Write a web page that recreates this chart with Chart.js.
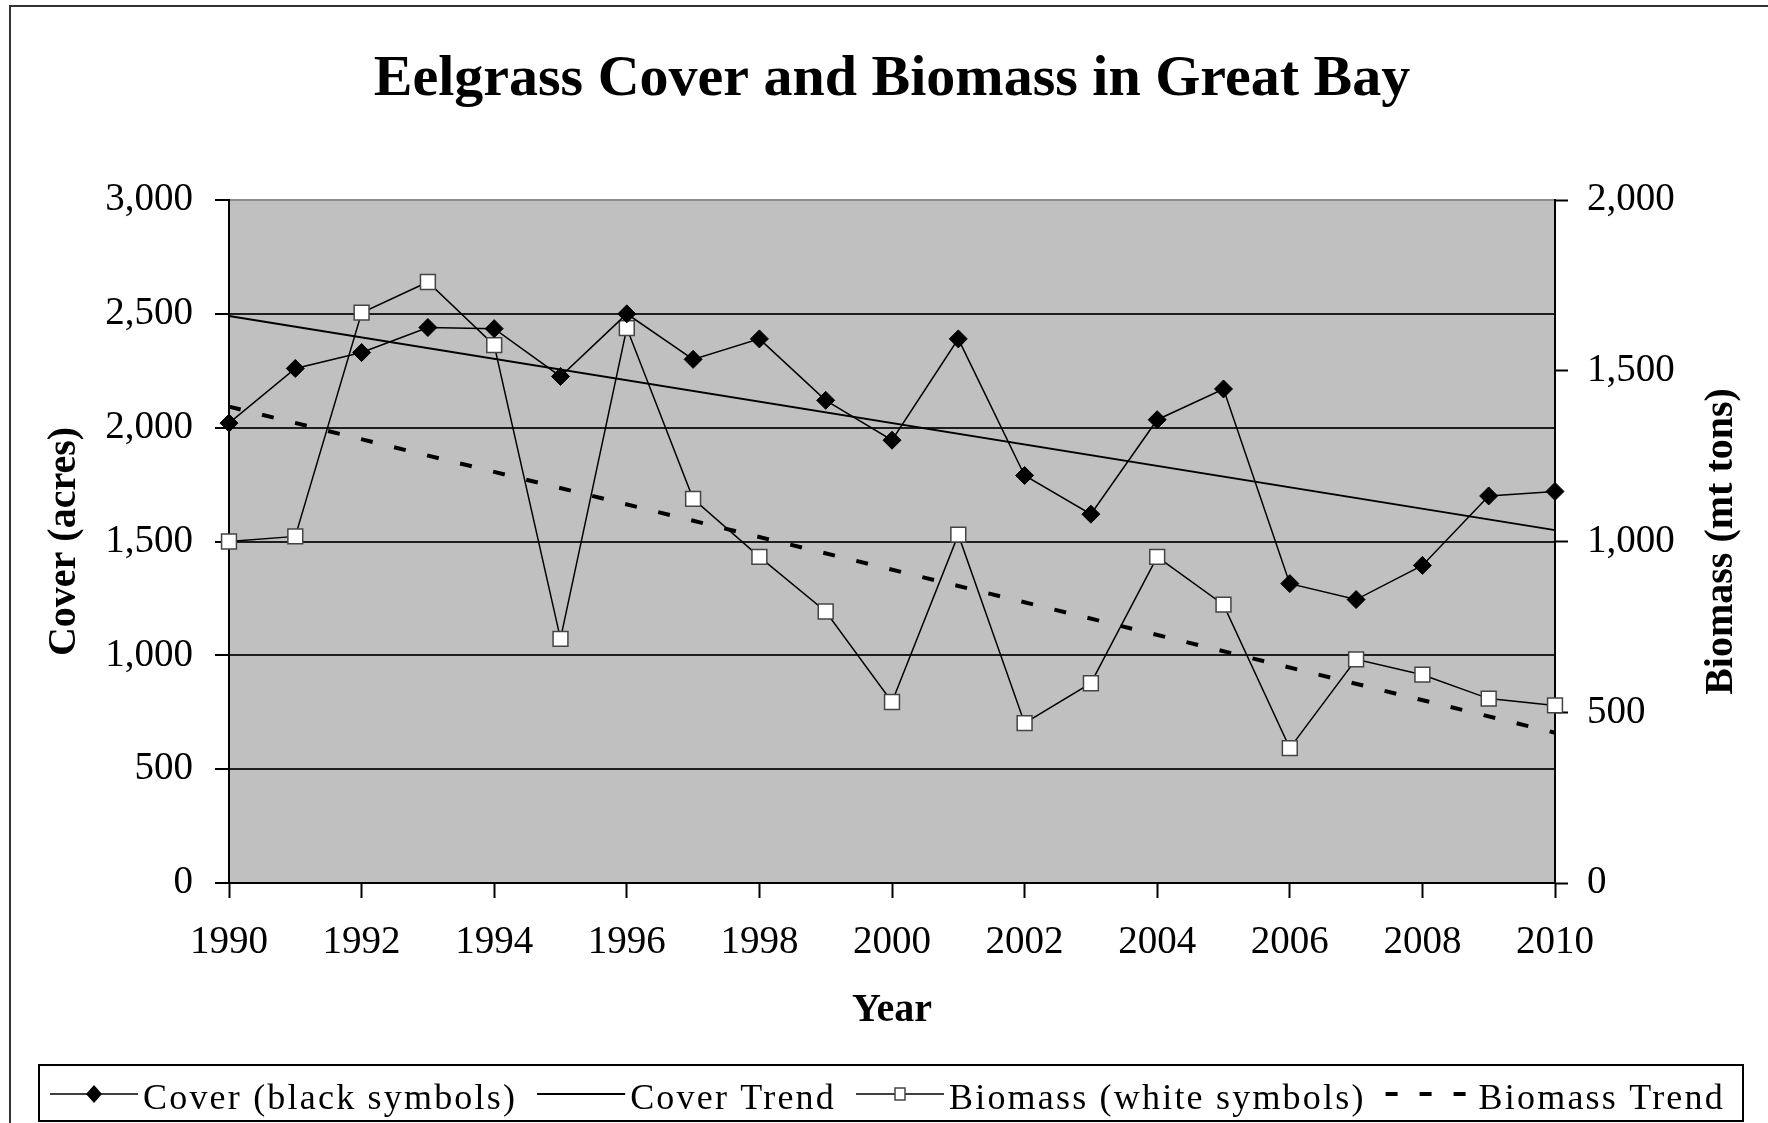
<!DOCTYPE html>
<html>
<head>
<meta charset="utf-8">
<script src="https://cdn.jsdelivr.net/npm/chart.js@4.4.1/dist/chart.umd.min.js"></script>
<style>
  html, body { margin: 0; padding: 0; background: #fff; }
</style>
</head>
<body>
<canvas id="myChart" width="1768" height="1123"></canvas>
<script>
// datos
const years = [1990, 1991, 1992, 1993, 1994, 1995, 1996, 1997, 1998, 1999, 2000,
  2001, 2002, 2003, 2004, 2005, 2006, 2007, 2008, 2009, 2010];
const cover = [2020, 2260, 2330, 2440, 2435, 2225, 2500, 2300, 2390, 2120, 1945,
  2390, 1790, 1620, 2035, 2170, 1315, 1245, 1395, 1700, 1720];
const biomass = [1000, 1015, 1670, 1760, 1575, 715, 1625, 1125, 955, 795, 530,
  1020, 468, 585, 955, 815, 395, 655, 610, 540, 520];
const trendYears = [1990, 2010];
const coverTrend = [2490, 1550];
const biomassTrend = [1395, 440];
const coverTicks = [0, 500, 1000, 1500, 2000, 2500, 3000];
const biomassTicks = [0, 500, 1000, 1500, 2000];
const yearTicks = [1990, 1992, 1994, 1996, 1998, 2000, 2002, 2004, 2006, 2008, 2010];

const toXY = (xs, ys) => xs.map((x, i) => ({ x: x, y: ys[i] }));

const serif = "'Liberation Serif', 'Times New Roman', serif";
Chart.defaults.font.family = serif;
Chart.defaults.color = "#000";

// fondo gris del area y marco exterior
const fondo = {
  id: "fondo",
  beforeDraw(chart) {
    const { ctx, chartArea: a } = chart;
    ctx.save();
    ctx.fillStyle = "#fff";
    ctx.fillRect(0, 0, chart.width, chart.height);
    ctx.fillStyle = "#c0c0c0";
    ctx.fillRect(a.left, a.top, a.right - a.left, a.bottom - a.top);
    ctx.strokeStyle = "#333";
    ctx.lineWidth = 2;
    ctx.beginPath();
    ctx.moveTo(10, chart.height);
    ctx.lineTo(10, 6);
    ctx.lineTo(chart.width, 6);
    ctx.stroke();
    ctx.restore();
  }
};

// titulo del eje derecho, leido de abajo hacia arriba
const tituloDerecho = {
  id: "tituloDerecho",
  afterDraw(chart) {
    const ctx = chart.ctx;
    const a = chart.chartArea;
    ctx.save();
    ctx.translate(chart.width - 46, (a.top + a.bottom) / 2);
    ctx.rotate(-Math.PI / 2);
    ctx.font = "bold 40px " + serif;
    ctx.fillStyle = "#000";
    ctx.textAlign = "center";
    ctx.textBaseline = "middle";
    ctx.fillText("Biomass (mt tons)", 0, 0);
    ctx.restore();
  }
};

// leyenda dibujada a mano abajo
const leyenda = {
  id: "leyenda",
  afterDraw(chart) {
    const ctx = chart.ctx;
    ctx.save();
    ctx.strokeStyle = "#000";
    ctx.lineWidth = 2;
    ctx.strokeRect(39, 1065, 1704, 56);
    ctx.font = "36px " + serif;
    ctx.letterSpacing = "2.2px";
    ctx.textBaseline = "alphabetic";
    ctx.fillStyle = "#000";
    const yMid = 1094;
    const yBase = 1109;
    let x = 50;
    chart.data.datasets.forEach((ds) => {
      const sw = 88;
      ctx.strokeStyle = ds.borderColor;
      ctx.lineWidth = ds.borderWidth;
      ctx.setLineDash(ds.borderDash || []);
      ctx.beginPath();
      ctx.moveTo(x, yMid);
      ctx.lineTo(x + sw, yMid);
      ctx.stroke();
      ctx.setLineDash([]);
      const cx = x + sw / 2;
      if (ds.pointStyle === "rectRot") {
        ctx.fillStyle = ds.pointBackgroundColor;
        ctx.beginPath();
        ctx.moveTo(cx - 8, yMid);
        ctx.lineTo(cx, yMid - 9);
        ctx.lineTo(cx + 8, yMid);
        ctx.lineTo(cx, yMid + 9);
        ctx.closePath();
        ctx.fill();
      } else if (ds.pointStyle === "rect" && ds.pointRadius > 0) {
        ctx.fillStyle = ds.pointBackgroundColor;
        ctx.strokeStyle = ds.pointBorderColor;
        ctx.lineWidth = 1.5;
        ctx.fillRect(cx - 5, yMid - 6, 10, 12);
        ctx.strokeRect(cx - 5, yMid - 6, 10, 12);
      }
      ctx.fillStyle = "#000";
      ctx.fillText(ds.label, x + sw + 5, yBase);
      x += sw + 5 + ctx.measureText(ds.label).width + 20;
    });
    ctx.restore();
  }
};

const config = {
  type: "line",
  data: {
    datasets: [
      {
        label: "Cover (black symbols)",
        data: toXY(years, cover),
        yAxisID: "y",
        borderColor: "#000",
        borderWidth: 1.5,
        pointStyle: "rectRot",
        pointRadius: 9,
        pointBackgroundColor: "#000",
        pointBorderColor: "#000",
        pointBorderWidth: 1,
        clip: false
      },
      {
        label: "Cover Trend",
        data: toXY(trendYears, coverTrend),
        yAxisID: "y",
        borderColor: "#000",
        borderWidth: 2,
        pointRadius: 0,
        clip: false
      },
      {
        label: "Biomass (white symbols)",
        data: toXY(years, biomass),
        yAxisID: "y2",
        borderColor: "#000",
        borderWidth: 1.5,
        pointStyle: "rect",
        pointRadius: 10.5,
        pointBackgroundColor: "#fff",
        pointBorderColor: "#444",
        pointBorderWidth: 1.5,
        clip: false
      },
      {
        label: "Biomass Trend",
        data: toXY(trendYears, biomassTrend),
        yAxisID: "y2",
        borderColor: "#000",
        borderWidth: 4,
        borderDash: [12, 22],
        borderCapStyle: "butt",
        pointRadius: 0,
        clip: false
      }
    ]
  },
  options: {
    responsive: false,
    animation: false,
    events: [],
    layout: { padding: { left: 0, right: 0, top: 0, bottom: 88.5 } },
    plugins: {
      legend: { display: false },
      tooltip: { enabled: false },
      title: {
        display: true,
        text: "Eelgrass Cover and Biomass in Great Bay",
        font: { size: 58, weight: "bold" },
        color: "#000",
        fullSize: false,
        padding: { top: 45, bottom: 85.4 }
      }
    },
    scales: {
      x: {
        type: "linear",
        position: "bottom",
        min: yearTicks[0],
        max: yearTicks[yearTicks.length - 1],
        afterBuildTicks: (s) => { s.ticks = yearTicks.map((v) => ({ value: v })); },
        ticks: {
          padding: 21.5,
          font: { size: 39 },
          color: "#000",
          maxRotation: 0,
          autoSkip: false,
          callback: (v) => String(v)
        },
        grid: { drawOnChartArea: false, tickLength: 15, tickColor: "#000", tickWidth: 2 },
        border: { color: "#000", width: 2 },
        title: {
          display: true,
          text: "Year",
          font: { size: 40, weight: "bold" },
          color: "#000",
          padding: { top: 0, bottom: 0 }
        },
        afterFit: (s) => { s.height = 151.5; }
      },
      y: {
        position: "left",
        min: coverTicks[0],
        max: coverTicks[coverTicks.length - 1],
        afterBuildTicks: (s) => { s.ticks = coverTicks.map((v) => ({ value: v })); },
        ticks: { padding: 22, font: { size: 39 }, color: "#000" },
        grid: {
          color: (c) => (c.tick && c.tick.value === 3000 ? "#8c8c8c" : "#1e1e1e"),
          lineWidth: 2,
          tickLength: 14,
          tickColor: "#000",
          tickWidth: 2
        },
        border: { color: "#000", width: 2 },
        title: {
          display: true,
          text: "Cover (acres)",
          font: { size: 40, weight: "bold" },
          color: "#000",
          padding: { top: 41, bottom: 0 }
        },
        afterFit: (s) => { s.width = 229; }
      },
      y2: {
        position: "right",
        min: biomassTicks[0],
        max: biomassTicks[biomassTicks.length - 1],
        afterBuildTicks: (s) => { s.ticks = biomassTicks.map((v) => ({ value: v })); },
        ticks: { padding: 19, font: { size: 39 }, color: "#000" },
        grid: { drawOnChartArea: false, tickLength: 13, tickColor: "#000", tickWidth: 2 },
        border: { color: "#000", width: 2 },
        title: { display: false },
        afterFit: (s) => { s.width = 213; }
      }
    }
  },
  plugins: [fondo, tituloDerecho, leyenda]
};

const myChart = new Chart(document.getElementById("myChart"), config);
</script>
</body>
</html>
